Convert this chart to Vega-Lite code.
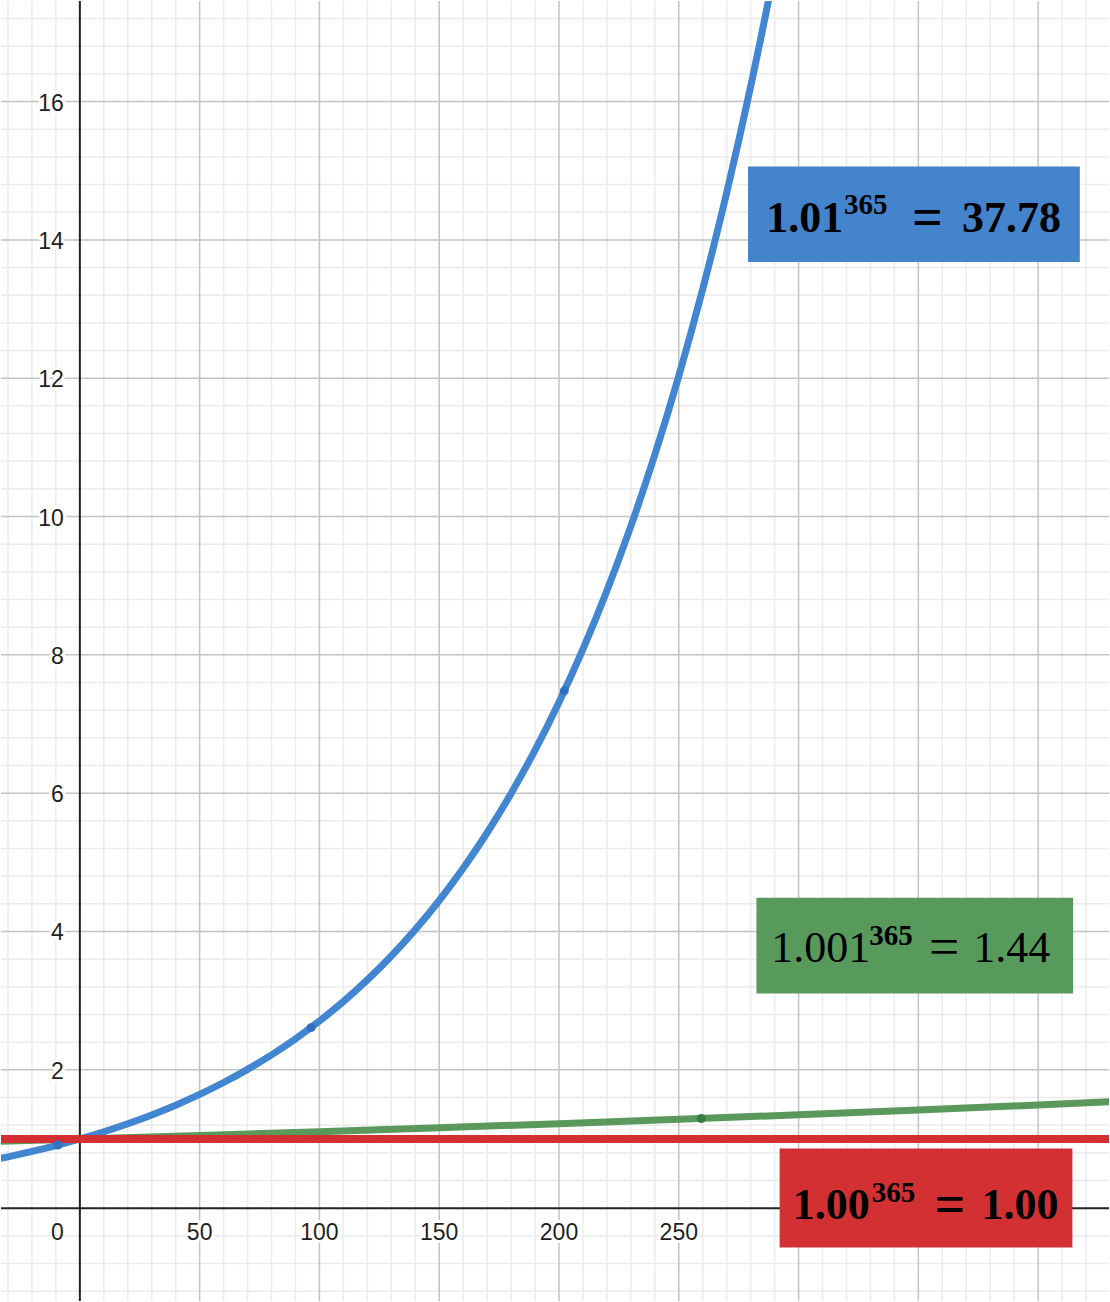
{
  "$schema": "https://vega.github.io/schema/vega-lite/v6.json",
  "width": 1110,
  "height": 1302,
  "autosize": {"type": "fit", "contains": "padding"},
  "padding": 0,
  "background": "white",
  "config": {"view": {"stroke": null}},
  "datasets": {
    "origin": [{"v": 0}],
    "xminor": [
      {"v": -30}, {"v": -20}, {"v": -10}, {"v": 10}, {"v": 20}, {"v": 30}, {"v": 40}, {"v": 60}, {"v": 70}, {"v": 80}, {"v": 90},
      {"v": 110}, {"v": 120}, {"v": 130}, {"v": 140}, {"v": 160}, {"v": 170}, {"v": 180}, {"v": 190},
      {"v": 210}, {"v": 220}, {"v": 230}, {"v": 240}, {"v": 260}, {"v": 270}, {"v": 280}, {"v": 290},
      {"v": 310}, {"v": 320}, {"v": 330}, {"v": 340}, {"v": 360}, {"v": 370}, {"v": 380}, {"v": 390},
      {"v": 410}, {"v": 420}
    ],
    "xmajor": [{"v": 50}, {"v": 100}, {"v": 150}, {"v": 200}, {"v": 250}, {"v": 300}, {"v": 350}, {"v": 400}],
    "yminor": [
      {"v": -1.2}, {"v": -0.8}, {"v": -0.4}, {"v": 0.4}, {"v": 0.8}, {"v": 1.2}, {"v": 1.6},
      {"v": 2.4}, {"v": 2.8}, {"v": 3.2}, {"v": 3.6}, {"v": 4.4}, {"v": 4.8}, {"v": 5.2}, {"v": 5.6},
      {"v": 6.4}, {"v": 6.8}, {"v": 7.2}, {"v": 7.6}, {"v": 8.4}, {"v": 8.8}, {"v": 9.2}, {"v": 9.6},
      {"v": 10.4}, {"v": 10.8}, {"v": 11.2}, {"v": 11.6}, {"v": 12.4}, {"v": 12.8}, {"v": 13.2}, {"v": 13.6},
      {"v": 14.4}, {"v": 14.8}, {"v": 15.2}, {"v": 15.6}, {"v": 16.4}, {"v": 16.8}, {"v": 17.2}
    ],
    "ymajor": [{"v": 2}, {"v": 4}, {"v": 6}, {"v": 8}, {"v": 10}, {"v": 12}, {"v": 14}, {"v": 16}],
    "blue": [
      {"x": -40, "y": 0.67165}, {"x": -30, "y": 0.74192}, {"x": -20, "y": 0.81954}, {"x": -10, "y": 0.90529},
      {"x": 0, "y": 1}, {"x": 10, "y": 1.10462}, {"x": 20, "y": 1.22019}, {"x": 30, "y": 1.34785},
      {"x": 40, "y": 1.48886}, {"x": 50, "y": 1.64463}, {"x": 60, "y": 1.8167}, {"x": 70, "y": 2.00676},
      {"x": 80, "y": 2.21672}, {"x": 90, "y": 2.44863}, {"x": 100, "y": 2.70481}, {"x": 110, "y": 2.9878},
      {"x": 120, "y": 3.30039}, {"x": 130, "y": 3.64569}, {"x": 140, "y": 4.0271}, {"x": 150, "y": 4.44842},
      {"x": 160, "y": 4.91383}, {"x": 170, "y": 5.42793}, {"x": 180, "y": 5.9958}, {"x": 190, "y": 6.6231},
      {"x": 200, "y": 7.31602}, {"x": 210, "y": 8.08143}, {"x": 220, "y": 8.92694}, {"x": 230, "y": 9.86085},
      {"x": 240, "y": 10.89256}, {"x": 250, "y": 12.03218}, {"x": 260, "y": 13.291}, {"x": 270, "y": 14.68152},
      {"x": 280, "y": 16.21753}, {"x": 290, "y": 17.91423}, {"x": 300, "y": 19.78847}
    ],
    "green": [
      {"x": -40, "y": 0.96081}, {"x": 0, "y": 1}, {"x": 50, "y": 1.05124}, {"x": 100, "y": 1.10512},
      {"x": 150, "y": 1.16175}, {"x": 200, "y": 1.22126}, {"x": 250, "y": 1.28386}, {"x": 300, "y": 1.34965},
      {"x": 350, "y": 1.41881}, {"x": 400, "y": 1.49153}, {"x": 450, "y": 1.56796}
    ],
    "red": [{"x": -40, "y": 1}, {"x": 450, "y": 1}],
    "dots": [
      {"x": -9.2, "y": 0.9125, "series": "blue"},
      {"x": 96.5, "y": 2.61, "series": "blue"},
      {"x": 202.2, "y": 7.48, "series": "blue"},
      {"x": 259.4, "y": 1.296, "series": "green"}
    ],
    "xticks": [
      {"x": 50, "label": "50"}, {"x": 100, "label": "100"}, {"x": 150, "label": "150"},
      {"x": 200, "label": "200"}, {"x": 250, "label": "250"}
    ],
    "yticks": [
      {"y": 2, "label": "2"}, {"y": 4, "label": "4"}, {"y": 6, "label": "6"}, {"y": 8, "label": "8"},
      {"y": 10, "label": "10"}, {"y": 12, "label": "12"}, {"y": 14, "label": "14"}, {"y": 16, "label": "16"}
    ],
    "zero": [{"x": 0, "y": 0, "label": "0"}],
    "boxes": [
      {"series": "blue", "x": 278.9, "x2": 417.4, "y": 15.06, "y2": 13.68},
      {"series": "green", "x": 282.4, "x2": 414.6, "y": 4.487, "y2": 3.105},
      {"series": "red", "x": 292.1, "x2": 414.3, "y": 0.862, "y2": -0.5675}
    ],
    "formulas": [
      {"series": "blue", "base": "1.01", "bx": 286.5, "by": 14.11, "sup": "365", "sx": 319.0, "sy": 14.38, "eq": "=", "ex": 353.8, "val": "37.78", "vx": 388.9},
      {"series": "green", "base": "1.001", "bx": 288.6, "by": 3.557, "sup": "365", "sx": 329.5, "sy": 3.812, "eq": "=", "ex": 360.8, "val": "1.44", "vx": 388.96},
      {"series": "red", "base": "1.00", "bx": 297.6, "by": -0.159, "sup": "365", "sx": 330.5, "sy": 0.091, "eq": "=", "ex": 363.3, "val": "1.00", "vx": 392.4}
    ]
  },
  "layer": [
    {
      "data": {"name": "xminor"},
      "mark": {"type": "rule", "color": "#ebebeb", "strokeWidth": 1.5},
      "encoding": {
        "x": {"field": "v", "type": "quantitative", "scale": {"domain": [-32.92, 429.58], "nice": false, "zero": false}, "axis": null}
      }
    },
    {
      "data": {"name": "yminor"},
      "mark": {"type": "rule", "color": "#ebebeb", "strokeWidth": 1.5},
      "encoding": {
        "y": {"field": "v", "type": "quantitative", "scale": {"domain": [-1.3426, 17.454], "nice": false, "zero": false}, "axis": null}
      }
    },
    {
      "data": {"name": "xmajor"},
      "mark": {"type": "rule", "color": "#c3c3c3", "strokeWidth": 1.5},
      "encoding": {
        "x": {"field": "v", "type": "quantitative", "axis": null}
      }
    },
    {
      "data": {"name": "ymajor"},
      "mark": {"type": "rule", "color": "#c3c3c3", "strokeWidth": 1.5},
      "encoding": {
        "y": {"field": "v", "type": "quantitative", "axis": null}
      }
    },
    {
      "data": {"name": "origin"},
      "mark": {"type": "rule", "color": "#222222", "strokeWidth": 2},
      "encoding": {
        "x": {"field": "v", "type": "quantitative", "axis": null}
      }
    },
    {
      "data": {"name": "origin"},
      "mark": {"type": "rule", "color": "#222222", "strokeWidth": 2},
      "encoding": {
        "y": {"field": "v", "type": "quantitative", "axis": null}
      }
    },
    {
      "data": {"name": "xticks"},
      "mark": {"type": "text", "font": "Liberation Sans", "fontSize": 23, "align": "center", "baseline": "alphabetic", "dy": 32, "fill": "white", "stroke": "white", "strokeWidth": 6, "strokeJoin": "round"},
      "encoding": {
        "x": {"field": "x", "type": "quantitative", "axis": null},
        "y": {"datum": 0, "type": "quantitative", "axis": null},
        "text": {"field": "label"}
      }
    },
    {
      "data": {"name": "xticks"},
      "mark": {"type": "text", "font": "Liberation Sans", "fontSize": 23, "align": "center", "baseline": "alphabetic", "dy": 32, "color": "#1f1f1f"},
      "encoding": {
        "x": {"field": "x", "type": "quantitative", "axis": null},
        "y": {"datum": 0, "type": "quantitative", "axis": null},
        "text": {"field": "label"}
      }
    },
    {
      "data": {"name": "yticks"},
      "mark": {"type": "text", "font": "Liberation Sans", "fontSize": 23, "align": "right", "baseline": "alphabetic", "dx": -16, "dy": 9, "fill": "white", "stroke": "white", "strokeWidth": 6, "strokeJoin": "round"},
      "encoding": {
        "x": {"datum": 0, "type": "quantitative", "axis": null},
        "y": {"field": "y", "type": "quantitative", "axis": null},
        "text": {"field": "label"}
      }
    },
    {
      "data": {"name": "yticks"},
      "mark": {"type": "text", "font": "Liberation Sans", "fontSize": 23, "align": "right", "baseline": "alphabetic", "dx": -16, "dy": 9, "color": "#1f1f1f"},
      "encoding": {
        "x": {"datum": 0, "type": "quantitative", "axis": null},
        "y": {"field": "y", "type": "quantitative", "axis": null},
        "text": {"field": "label"}
      }
    },
    {
      "data": {"name": "zero"},
      "mark": {"type": "text", "font": "Liberation Sans", "fontSize": 23, "align": "right", "baseline": "alphabetic", "dx": -16, "dy": 32, "color": "#1f1f1f"},
      "encoding": {
        "x": {"field": "x", "type": "quantitative", "axis": null},
        "y": {"field": "y", "type": "quantitative", "axis": null},
        "text": {"field": "label"}
      }
    },
    {
      "data": {"name": "green"},
      "mark": {"type": "line", "color": "#5a995b", "strokeWidth": 7, "interpolate": "monotone", "clip": true},
      "encoding": {
        "x": {"field": "x", "type": "quantitative", "axis": null},
        "y": {"field": "y", "type": "quantitative", "axis": null}
      }
    },
    {
      "data": {"name": "blue"},
      "mark": {"type": "line", "color": "#4285d0", "strokeWidth": 7, "interpolate": "monotone", "clip": true},
      "encoding": {
        "x": {"field": "x", "type": "quantitative", "axis": null},
        "y": {"field": "y", "type": "quantitative", "axis": null}
      }
    },
    {
      "data": {"name": "red"},
      "mark": {"type": "line", "color": "#d32f32", "strokeWidth": 8, "clip": true},
      "encoding": {
        "x": {"field": "x", "type": "quantitative", "axis": null},
        "y": {"field": "y", "type": "quantitative", "axis": null}
      }
    },
    {
      "data": {"name": "dots"},
      "mark": {"type": "point", "filled": true, "size": 80, "opacity": 1},
      "encoding": {
        "x": {"field": "x", "type": "quantitative", "axis": null},
        "y": {"field": "y", "type": "quantitative", "axis": null},
        "color": {"field": "series", "type": "nominal", "legend": null, "scale": {"domain": ["blue", "green", "red"], "range": ["#2f70c2", "#347f3f", "#b82528"]}}
      }
    },
    {
      "data": {"name": "boxes"},
      "mark": {"type": "rect"},
      "encoding": {
        "x": {"field": "x", "type": "quantitative", "axis": null},
        "x2": {"field": "x2"},
        "y": {"field": "y", "type": "quantitative", "axis": null},
        "y2": {"field": "y2"},
        "fill": {"field": "series", "type": "nominal", "legend": null, "scale": {"domain": ["blue", "green", "red"], "range": ["#4484cc", "#589a5c", "#d33033"]}}
      }
    },
    {
      "data": {"name": "formulas"},
      "transform": [{"filter": "datum.series !== 'green'"}],
      "mark": {"type": "text", "font": "Liberation Serif", "fontSize": 44, "fontWeight": "bold", "align": "left", "baseline": "alphabetic", "color": "#000000"},
      "encoding": {
        "x": {"field": "bx", "type": "quantitative", "axis": null},
        "y": {"field": "by", "type": "quantitative", "axis": null},
        "text": {"field": "base"}
      }
    },
    {
      "data": {"name": "formulas"},
      "mark": {"type": "text", "font": "Liberation Serif", "fontSize": 29, "fontWeight": "bold", "align": "left", "baseline": "alphabetic", "color": "#000000"},
      "encoding": {
        "x": {"field": "sx", "type": "quantitative", "axis": null},
        "y": {"field": "sy", "type": "quantitative", "axis": null},
        "text": {"field": "sup"}
      }
    },
    {
      "data": {"name": "formulas"},
      "transform": [{"filter": "datum.series !== 'green'"}],
      "mark": {"type": "text", "font": "Liberation Serif", "fontSize": 54, "fontWeight": "bold", "align": "center", "baseline": "alphabetic", "dy": 3, "color": "#000000"},
      "encoding": {
        "x": {"field": "ex", "type": "quantitative", "axis": null},
        "y": {"field": "by", "type": "quantitative", "axis": null},
        "text": {"field": "eq"}
      }
    },
    {
      "data": {"name": "formulas"},
      "transform": [{"filter": "datum.series !== 'green'"}],
      "mark": {"type": "text", "font": "Liberation Serif", "fontSize": 44, "fontWeight": "bold", "align": "center", "baseline": "alphabetic", "color": "#000000"},
      "encoding": {
        "x": {"field": "vx", "type": "quantitative", "axis": null},
        "y": {"field": "by", "type": "quantitative", "axis": null},
        "text": {"field": "val"}
      }
    },
    {
      "data": {"name": "formulas"},
      "transform": [{"filter": "datum.series === 'green'"}],
      "mark": {"type": "text", "font": "Liberation Serif", "fontSize": 44, "align": "left", "baseline": "alphabetic", "color": "#000000"},
      "encoding": {
        "x": {"field": "bx", "type": "quantitative", "axis": null},
        "y": {"field": "by", "type": "quantitative", "axis": null},
        "text": {"field": "base"}
      }
    },
    {
      "data": {"name": "formulas"},
      "transform": [{"filter": "datum.series === 'green'"}],
      "mark": {"type": "text", "font": "Liberation Serif", "fontSize": 54, "align": "center", "baseline": "alphabetic", "dy": 3, "color": "#000000"},
      "encoding": {
        "x": {"field": "ex", "type": "quantitative", "axis": null},
        "y": {"field": "by", "type": "quantitative", "axis": null},
        "text": {"field": "eq"}
      }
    },
    {
      "data": {"name": "formulas"},
      "transform": [{"filter": "datum.series === 'green'"}],
      "mark": {"type": "text", "font": "Liberation Serif", "fontSize": 44, "align": "center", "baseline": "alphabetic", "color": "#000000"},
      "encoding": {
        "x": {"field": "vx", "type": "quantitative", "axis": null},
        "y": {"field": "by", "type": "quantitative", "axis": null},
        "text": {"field": "val"}
      }
    }
  ]
}
